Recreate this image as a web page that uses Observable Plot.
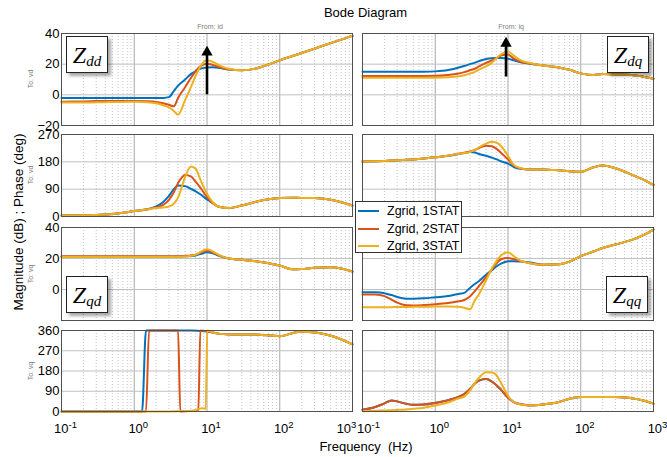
<!DOCTYPE html>
<html><head><meta charset="utf-8">
<script src="https://cdn.jsdelivr.net/npm/d3@7"></script>
<script src="https://cdn.jsdelivr.net/npm/@observablehq/plot@0.6"></script>
<style>
body{margin:0;background:#fff;}
#chart{position:relative;width:667px;height:457px;background:#fff;font-family:"Liberation Sans",Arial,Helvetica,sans-serif;overflow:hidden;color:#000;}
.abs{position:absolute;white-space:pre;}
.small{font-size:7px;color:#808080;}
.rot{transform:translate(-50%,-50%) rotate(-90deg);}
.ctr{transform:translate(-50%,-50%);}
.zbox{position:absolute;box-sizing:border-box;background:#fff;border:1px solid #222;box-shadow:3px 3px 3px rgba(0,0,0,0.35);display:flex;align-items:center;justify-content:center;font-family:"Liberation Serif","DejaVu Serif",serif;font-style:italic;z-index:5;line-height:1;}
.zbox .Z{font-size:24px;}
.zbox .s{font-size:15px;position:relative;top:7px;}
.legend{position:absolute;box-sizing:border-box;background:#fff;border:1px solid #333;z-index:6;font-size:12.5px;}
.legend .row{position:absolute;left:0;height:16px;width:100%;}
.legend .sw{position:absolute;left:2px;top:7px;width:21px;height:2px;}
.legend .lab{position:absolute;left:31px;top:0;line-height:16px;white-space:nowrap;}
.panel{position:absolute;}
</style>
</head><body>
<div id="chart"></div>
<script>
// ---------- data ----------
const freq = [0.1,0.15,0.2,0.25,0.3,0.4,0.5,0.7,1,1.5,2,2.5,3,3.5,4,5,6,7,8,10,12,15,20,30,50,70,100,150,200,300,500,700,1000];

const seriesNames = ["Zgrid, 1STAT", "Zgrid, 2STAT", "Zgrid, 3STAT"];
const seriesColors = ["#0072BD", "#D95319", "#EDB120"];

// Zdd magnitude (dB)
const zddMag1 = [-2,-2,-2,-2,-2,-2,-2,-2,-2,-2,-2,-2,-1.5,2.5,6,10,13.5,15.5,17,17.8,18,17.5,16.5,16,17.5,19.8,22.5,25.3,27.3,30.1,33.7,36,38.5];
const zddMag2 = [-4.5,-4.4,-4.3,-4.2,-4.1,-4,-4,-4,-4,-4.2,-4.6,-5.5,-6.5,-7.5,-2,5,11,15.5,18.5,20.3,19.5,18,16.5,16,17.5,19.8,22.5,25.3,27.3,30.1,33.7,36,38.5];
const zddMag3 = [-5,-5,-5,-5,-4.9,-4.8,-4.7,-4.6,-4.5,-4.8,-5.5,-6.8,-8.2,-10.5,-13,-3.5,5,12.5,18,22.5,21.5,19,17,16,17.5,19.8,22.5,25.3,27.3,30.1,33.7,36,38.5];
// Zdq magnitude (dB)
const zdqMag1 = [15,15,15,15,15,15,15,15,15.3,16.2,17.5,18.8,20,21,22,23.4,23.9,24,24,23.6,22.5,21.2,20.3,19.2,17.8,16.3,14,13,13.6,13.3,13,12,10.5];
const zdqMag2 = [12.3,12.3,12.3,12.3,12.3,12.3,12.3,12.3,12.4,13,13.7,14.8,16,17,18.5,20.8,22.5,24,25.6,26.3,23.6,21.6,20.5,19.2,17.8,16.3,14,13,13.6,13.3,13,12,10.5];
const zdqMag3 = [11.2,11.2,11.2,11.2,11.2,11.2,11.2,11.2,11.2,11.5,12,12.8,13.8,15,16.5,18.5,21,24,26.5,28.3,25.6,22.5,20.8,19.2,17.8,16.3,14,13,13.6,13.3,13,12,10.5];
// Zdd phase (deg)
const zddPh1 = [3,3.5,4,4.5,5,6.5,8,12,18,24,33,48,68,90,102,100,91,83,74,56,44,31,28,36,50,57,61,62,61,61,55,47,36];
const zddPh2 = [3,3.5,4,4.5,5,6.5,8,12,18,23,30,38,55,80,110,137,132,114,97,64,44,31,28,36,50,57,61,62,61,61,55,47,36];
const zddPh3 = [3,3.5,4,4.5,5,6.5,8,12,18,23,28,30,33,42,62,130,165,157,125,75,47,31,28,36,50,57,61,62,61,61,55,47,36];
// Zdq phase (deg)
const zdqPh1 = [181,182,183,184,185,186.5,188,191,195,200,205,209,212,211,206,200,194,188,182,174,163,157,155,155,152,149,147,162,168,159,138,123,104];
const zdqPh2 = [181,182,183,184,185,186.5,188,191,195,200,206,210,214,219,226,233,231,222,210,188,168,158,155,155,152,149,147,162,168,159,138,123,104];
const zdqPh3 = [181,182,183,184,185,186.5,188,191,195,200,206,209,212,219,228,240,246,243,232,200,170,159,155,155,152,149,147,162,168,159,138,123,104];
// Zqd magnitude (dB)
const zqdMag1 = [21.2,21.2,21.2,21.2,21.2,21.2,21.2,21.2,21.2,21.2,21.2,21.2,21.2,21.2,21.2,21.4,21.7,22,22.8,24,23.3,21.5,20,19.2,18,17,15.5,13,13.2,14,14.3,13.5,11.5];
const zqdMag2 = [21.5,21.5,21.5,21.5,21.5,21.5,21.5,21.5,21.5,21.5,21.5,21.5,21.5,21.5,21.5,21.7,22,22.5,23.5,25,24,21.8,20,19.2,18,17,15.5,13,13.2,14,14.3,13.5,11.5];
const zqdMag3 = [21,21,21,21,21,21,21,21,21,21,21,21,21,21,21,21.3,21.8,22.5,24,26,24.5,22,20,19.2,18,17,15.5,13,13.2,14,14.3,13.5,11.5];
// Zqq magnitude (dB)
const zqqMag1 = [-1.7,-1.8,-2.4,-3.6,-4.8,-5.9,-6,-5.7,-5,-4.2,-3,-2.2,1,3.5,5.5,9.5,12.5,15,16.7,18.2,18.3,18,17.4,16,16.3,18,21.5,24.5,26.8,29,32,34.8,38.7];
const zqqMag2 = [-3.2,-3.3,-4.3,-6.5,-8.5,-10.2,-10.3,-10,-9.5,-8.7,-7.8,-6.8,-4.5,-1,2.3,8,13,17,19.5,20.4,19.5,18.3,17,16,16.3,18,21.5,24.5,26.8,29,32,34.8,38.7];
const zqqMag3 = [-11.4,-11.4,-11.4,-11.4,-11.3,-11.3,-11.2,-11.1,-11,-11,-11.2,-11.8,-12.8,-7,-3,6,13.5,18.5,22,24,21.5,18.5,17,16,16.3,18,21.5,24.5,26.8,29,32,34.8,38.7];
// Zqd phase (deg), own frequency samples (phase wraps)
const qdPhFreq1 = [0.1,1.28,1.45,3,6,8,10,12,15,23,44,100,190,330,550,1000];
const qdPh1     = [0,0,360,360,360,358,356,351,345,342,342,335,355,350,333,298];
const qdPhFreq2 = [0.1,1.45,1.6,4.0,4.3,6,7.6,8.1,10,12,15,23,44,100,190,330,550,1000];
const qdPh2     = [0,0,360,360,0,2,5,360,357,351,345,342,342,335,355,350,333,298];
const qdPhFreq3 = [0.1,3,5,7,8.5,9.6,10.1,12,15,23,44,100,190,330,550,1000];
const qdPh3     = [0,0,2,6,14,12,360,351,345,342,342,335,355,350,333,298];
// Zqq phase (deg)
const zqqPh1 = [8,20,36,49,45,34,30,31,38,50,63,78,100,124,137,144,133,116,97,62,42,32,27,31,42,57,64,65,65,64,59,50,35];
const zqqPh2 = [8,20,36,49,45,34,30,31,38,50,63,78,100,124,137,144,133,116,97,62,42,32,27,31,42,57,64,65,65,64,59,50,35];
const zqqPh3 = [1,3,5,6,7,9,12,17,27,40,56,66,93,127,150,174,173,160,128,70,42,31,27,31,42,57,64,65,65,64,59,50,35];

// ticks
const decades = [0.1, 1, 10, 100, 1000];
const minorMult = [2,3,4,5,6,7,8,9];
const minorTicks = [0.1, 1, 10, 100].flatMap(d => minorMult.map(m => d * m));
const magTicks = [-20, 0, 20, 40];
const magTicksQ = [0, 20, 40];
const phTicks270 = [0, 90, 180, 270];
const phTicks360 = [0, 90, 180, 270, 360];

// annotation arrows (direction of increasing STAT count)
const arrowZdd = {f: [10], from: [0], to: [25.8]};
const arrowZdq = {f: [9.4], from: [11.6], to: [31.6]};

// ---------- layout ----------
const chart = document.getElementById("chart");
const colLeft = [61, 362];
const rowSpan = [[33,125],[134,216],[227,320],[330,411]];
const plotW = 291;
const FONT = '"Liberation Sans", Arial, Helvetica, sans-serif';
const supMap = {"-1":"⁻¹","0":"⁰","1":"¹","2":"²","3":"³"};
const fmtPow = d => "10" + supMap[String(Math.round(Math.log10(d)))];

function makePanel(p) {
  const [top, bottom] = rowSpan[p.r];
  const h = bottom - top;
  const mL = p.c === 0 ? 40 : 2, mR = 6, mT = 4, mB = p.r === 3 ? 32 : 4;
  const marks = [
    Plot.ruleX(minorTicks, {stroke: "#c4c4c4", strokeDasharray: "1,2", strokeWidth: 1}),
    Plot.ruleX(decades, {stroke: "#a8a8a8", strokeWidth: 1}),
    Plot.ruleY(p.grid, {stroke: "#c0c0c0", strokeWidth: 1})
  ];
  p.series.forEach((s, i) => {
    marks.push(Plot.line(s.y, {x: s.x, y: s.y, stroke: seriesColors[i], strokeWidth: 2, curve: p.curve || "monotone-x"}));
  });
  if (p.arrow) {
    marks.push(Plot.ruleX(p.arrow.f, {x: p.arrow.f, y1: p.arrow.from, y2: p.arrow.to, stroke: "#000", strokeWidth: 2.6}));
    marks.push(Plot.dot(p.arrow.f, {x: p.arrow.f, y: p.arrow.to, symbol: "triangle", r: 4.2, fill: "#000", stroke: "none", dy: -3}));
  }
  marks.push(Plot.frame({stroke: "#505050", strokeWidth: 1}));
  const svg = Plot.plot({
    width: plotW + mL + mR, height: h + mT + mB,
    marginLeft: mL, marginRight: mR, marginTop: mT, marginBottom: mB,
    x: {type: "log", domain: [0.1, 1000], axis: p.r === 3 ? "bottom" : null, ticks: decades, tickFormat: fmtPow, tickSize: 0, tickPadding: 12, label: null},
    y: {domain: p.dom, axis: p.c === 0 ? "left" : null, ticks: p.ticks, tickSize: 0, tickPadding: 2, label: null},
    style: {fontSize: "13px", fontFamily: FONT, color: "#000", background: "transparent", overflow: "visible"},
    marks
  });
  svg.style.maxWidth = "none";
  svg.querySelectorAll("text").forEach(t => {
    const m = t.textContent.match(/^10([⁻⁰¹²³]+)$/);
    if (m) {
      const e = m[1].replace("⁻","-").replace("⁰","0").replace("¹","1").replace("²","2").replace("³","3");
      t.textContent = "10";
      const ts = document.createElementNS("http://www.w3.org/2000/svg", "tspan");
      ts.setAttribute("dy", "-0.45em");
      ts.setAttribute("font-size", "9.5");
      ts.textContent = e;
      t.appendChild(ts);
      let dx = 4;
      if (p.c === 0 && e === "3") dx = -6;
      if (p.c === 1 && e === "-1") dx = 6;
      t.setAttribute("dx", String(dx));
    }
  });
  const div = document.createElement("div");
  div.className = "panel";
  div.style.left = (colLeft[p.c] - mL) + "px";
  div.style.top = (top - mT) + "px";
  div.appendChild(svg);
  chart.appendChild(div);
}

const S = (x, ys) => ys.map(y => ({x, y}));
const panels = [
  {c:0, r:0, series: S(freq, [zddMag1, zddMag2, zddMag3]), dom:[-20,40], ticks: magTicks, grid: magTicks, arrow: arrowZdd},
  {c:1, r:0, series: S(freq, [zdqMag1, zdqMag2, zdqMag3]), dom:[-20,40], ticks: magTicks, grid: magTicks, arrow: arrowZdq},
  {c:0, r:1, series: S(freq, [zddPh1, zddPh2, zddPh3]), dom:[0,270], ticks: phTicks270, grid: phTicks270},
  {c:1, r:1, series: S(freq, [zdqPh1, zdqPh2, zdqPh3]), dom:[0,270], ticks: phTicks270, grid: phTicks270},
  {c:0, r:2, series: S(freq, [zqdMag1, zqdMag2, zqdMag3]), dom:[-20,40], ticks: magTicksQ, grid: magTicks},
  {c:1, r:2, series: S(freq, [zqqMag1, zqqMag2, zqqMag3]), dom:[-20,40], ticks: magTicksQ, grid: magTicks},
  {c:0, r:3, series: [{x: qdPhFreq1, y: qdPh1}, {x: qdPhFreq2, y: qdPh2}, {x: qdPhFreq3, y: qdPh3}], dom:[0,360], ticks: phTicks360, grid: phTicks360},
  {c:1, r:3, series: S(freq, [zqqPh1, zqqPh2, zqqPh3]), dom:[0,360], ticks: phTicks360, grid: phTicks360}
];
panels.forEach(makePanel);

// ---------- text ----------
function addText(html, cls, x, y, extraStyle) {
  const d = document.createElement("div");
  d.className = "abs " + cls;
  d.style.left = x + "px"; d.style.top = y + "px";
  if (extraStyle) d.setAttribute("style", d.getAttribute("style") + ";" + extraStyle);
  d.innerHTML = html;
  chart.appendChild(d);
  return d;
}
addText("Bode Diagram", "ctr", 365.5, 12, "font-size:13px");
addText("Frequency  (Hz)", "ctr", 366, 446, "font-size:13px");
addText("Magnitude (dB) ; Phase (deg)", "rot", 17.5, 221.5, "font-size:13.5px");
addText("From: id", "ctr small", 210, 26);
addText("From: iq", "ctr small", 511, 26);
const toLabels = ["To: vd", "To: vd", "To: vq", "To: vq"];
rowSpan.forEach((rs, i) => addText(toLabels[i], "rot small", 30, (rs[0] + rs[1]) / 2));

// Z labels
const zLabels = [["dd", 66, 36], ["dq", 607, 36], ["qd", 66, 276], ["qq", 606, 276]];
zLabels.forEach(([sub, x, y]) => {
  const b = document.createElement("div");
  b.className = "zbox";
  b.style.left = x + "px"; b.style.top = y + "px";
  b.style.width = "42px"; b.style.height = "37px";
  b.innerHTML = '<span class="Z">Z</span><span class="s">' + sub + '</span>';
  chart.appendChild(b);
});

// legend
const lg = document.createElement("div");
lg.className = "legend";
lg.style.left = "355px"; lg.style.top = "201px"; lg.style.width = "107px"; lg.style.height = "52px";
seriesNames.forEach((n, i) => {
  const r = document.createElement("div");
  r.className = "row";
  r.style.top = (1 + i * 17.5) + "px";
  r.innerHTML = '<div class="sw" style="background:' + seriesColors[i] + '"></div><div class="lab">' + n + '</div>';
  lg.appendChild(r);
});
chart.appendChild(lg);
</script>
</body></html>
